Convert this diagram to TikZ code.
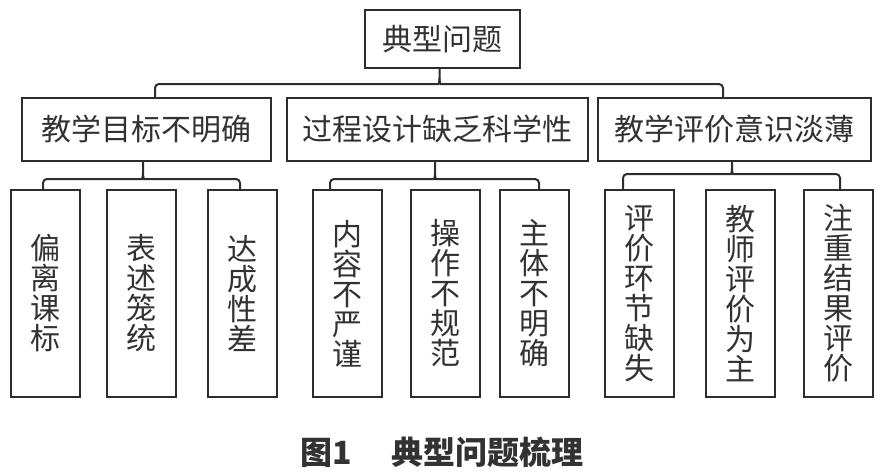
\documentclass[tikz,border=0pt]{standalone}
\usepackage{fontspec}
\newfontfamily\cjk{Noto Sans CJK SC}
\usetikzlibrary{calc}
\definecolor{linegray}{RGB}{45,45,45}
\definecolor{textgray}{RGB}{50,50,50}
\tikzset{every picture/.style={line width=1.5pt}}
\tikzset{
  cbox/.style={draw=linegray, text=textgray, inner sep=0pt, font=\cjk\fontsize{22.5}{22.5}\selectfont},
  topbox/.style={cbox, minimum width=116.25pt, minimum height=43.5pt},
  midbox/.style={cbox, minimum height=47.25pt},
  leafbox/.style={cbox, align=center, minimum width=51.75pt, minimum height=155.25pt},
  brace/.style={draw=linegray, rounded corners=3pt}
}

\begin{document}
\begin{tikzpicture}[x=0.75pt,y=0.75pt,yscale=-1,xscale=1]
\useasboundingbox (0,0) rectangle (894,475);

% Text Node
\node[topbox] (top) at (442.5,39) {典型问题};
% Text Node
\node[midbox, minimum width=186.75pt] (goal) at (146.5,129.5) {教学目标不明确};
\node[midbox, minimum width=225.75pt] (design) at (437.5,129.5) {过程设计缺乏科学性};
\node[midbox, minimum width=204.75pt] (eval) at (734.5,129.5) {教学评价意识淡薄};

% Text Node
\node[leafbox] (l1) at (45.5,293.5) {偏\\离\\课\\标};
\node[leafbox] (l2) at (141,293.5) {表\\述\\笼\\统};
\node[leafbox] (l3) at (242.5,293.5) {达\\成\\性\\差};
\node[leafbox] (l4) at (347.5,293.5) {内\\容\\不\\严\\谨};
\node[leafbox] (l5) at (445,293.5) {操\\作\\不\\规\\范};
\node[leafbox] (l6) at (534.5,293.5) {主\\体\\不\\明\\确};
\node[leafbox] (l7) at (639,293.5) {评\\价\\环\\节\\缺\\失};
\node[leafbox] (l8) at (740.5,293.5) {教\\师\\评\\价\\为\\主};
\node[leafbox] (l9) at (838.5,293.5) {注\\重\\结\\果\\评\\价};

% Brace tips
\coordinate (toptip) at ($(top.south)+(-3,0)$);
\coordinate (goaltip) at ($(goal.south)+(-3.5,0)$);
\coordinate (designtip) at ($(design.south)+(-2.5,0)$);
\coordinate (evaltip) at ($(eval.south)+(-2.5,0)$);

%Brace [top]
\draw[brace] ($(goal.north)+(8.5,0)$) |- ($(toptip)+(-5,15)$) [sharp corners] .. controls +(4,0) and +(0,4) .. ($(toptip)+(0,9)$) -- (toptip);
\draw[brace] ($(eval.north)+(-11.5,0)$) |- ($(toptip)+(5,15)$) [sharp corners] .. controls +(-4,0) and +(0,4) .. ($(toptip)+(0,9)$);
%Brace [goal]
\draw[brace] ($(l1.north)+(-2.5,0)$) |- ($(goaltip)+(-5,17)$) [sharp corners] .. controls +(4,0) and +(0,4) .. ($(goaltip)+(0,11)$) -- (goaltip);
\draw[brace] ($(l3.north)+(-2.5,0)$) |- ($(goaltip)+(5,17)$) [sharp corners] .. controls +(-4,0) and +(0,4) .. ($(goaltip)+(0,11)$);
%Brace [design]
\draw[brace] ($(l4.north)+(-17.5,0)$) |- ($(designtip)+(-5,17)$) [sharp corners] .. controls +(4,0) and +(0,4) .. ($(designtip)+(0,11)$) -- (designtip);
\draw[brace] ($(l6.north)+(4.5,0)$) |- ($(designtip)+(5,17)$) [sharp corners] .. controls +(-4,0) and +(0,4) .. ($(designtip)+(0,11)$);
%Brace [eval]
\draw[brace] ($(l7.north)+(-16,0)$) |- ($(evaltip)+(-5,12)$) [sharp corners] .. controls +(4,0) and +(0,4) .. ($(evaltip)+(0,6)$) -- (evaltip);
\draw[brace] ($(l9.north)+(1.5,0)$) |- ($(evaltip)+(5,12)$) [sharp corners] .. controls +(-4,0) and +(0,4) .. ($(evaltip)+(0,6)$);

% Text Node
\node[text=textgray, font=\cjk\bfseries\fontsize{24}{24}\selectfont] (caption) at (442,452) {图1\hspace{30pt}典型问题梳理};

\end{tikzpicture}
\end{document}
